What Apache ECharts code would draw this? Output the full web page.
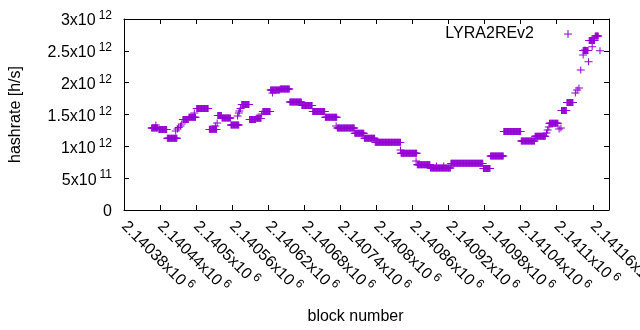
<!DOCTYPE html>
<html><head><meta charset="utf-8">
<script src="https://cdn.jsdelivr.net/npm/echarts@6/dist/echarts.min.js"></script>
<style>html,body{margin:0;padding:0;background:#fff}#c{width:640px;height:330px}</style>
</head><body><div id="c"></div>
<script>
// Runs of (nearly) constant hashrate: first block, last block, hashrate in 1e12 h/s
const runStart = [2140426,2140438,2140452,2140478,2140488,2140501,2140522,2140536,2140543,2140558,2140576,2140589,2140600,2140611,2140624,2140640,2140656,2140676,2140694,2140715,2140735,2140764,2140780,2140798,2140841,2140868,2140890,2140924,2140978,2140990,2141012,2141041,2141064,2141088,2141108,2141117,2141144,2141154,2141164];
const runEnd   = [2140436,2140451,2140468,2140487,2140499,2140520,2140534,2140542,2140557,2140571,2140588,2140599,2140608,2140623,2140639,2140655,2140675,2140693,2140714,2140734,2140763,2140779,2140797,2140840,2140867,2140889,2140923,2140977,2140989,2141011,2141040,2141063,2141081,2141102,2141116,2141127,2141152,2141163,2141169];
const runValue = [1.288,1.264,1.126,1.421,1.456,1.594,1.267,1.484,1.445,1.335,1.657,1.421,1.440,1.547,1.885,1.900,1.696,1.641,1.547,1.456,1.288,1.205,1.126,1.063,0.891,0.711,0.660,0.733,0.652,0.848,1.233,1.084,1.158,1.362,1.563,1.688,2.505,2.662,2.733];
// Isolated blocks
const ptBlock = [2140433,2140466,2140469,2140471,2140474,2140476,2140497,2140532,2140535,2140569,2140571,2140572,2140574,2140609,2140627,2140733,2140840,2140866,2140900,2140912,2141083,2141085,2141087,2141104,2141107,2141131,2141134,2141137,2141140,2141144,2141147,2141153,2141159,2141172];
const ptValue = [1.335,1.241,1.272,1.296,1.319,1.351,1.523,1.319,1.366,1.476,1.523,1.555,1.594,1.508,1.838,1.320,0.942,0.770,0.690,0.690,1.210,1.256,1.304,1.272,1.288,1.838,1.885,1.916,2.199,2.434,2.513,2.329,2.565,2.502];

const xTickMant = ['2.14038','2.14044','2.1405','2.14056','2.14062','2.14068','2.14074','2.1408','2.14086','2.14092','2.14098','2.14104','2.1411','2.14116'];
const xTickExp = '6';
const yTickMant = ['0','5','1','1.5','2','2.5','3'];
const yTickExp = ['','11','12','12','12','12','12'];
const xMin = 2140380, xMax = 2141187, xStep = 60;
const yMin = 0, yMax = 3, yStep = 0.5;
const seriesName = 'LYRA2REv2';

const data = [];
for (let i = 0; i < runStart.length; i++) {
  for (let b = runStart[i]; b <= runEnd[i]; b++) data.push([b, runValue[i]]);
}
for (let i = 0; i < ptBlock.length; i++) data.push([ptBlock[i], ptValue[i]]);

const FONT = 'Liberation Sans, Arial, sans-serif';
const plus = 'path://M0,3.5h8v1h-8z M3.5,0h1v8h-1z';
const rich = {
  a: {fontSize: 16, fontFamily: FONT, color: '#000', lineHeight: 22},
  b: {fontSize: 12, fontFamily: FONT, color: '#000', lineHeight: 12, padding: [0, 0, 10, 3]}
};

const chart = echarts.init(document.getElementById('c'), null, {renderer: 'canvas'});
chart.setOption({
  animation: false,
  grid: {left: 124, right: 31, top: 19, bottom: 120, containLabel: false, outerBoundsMode: 'none'},
  legend: {
    right: 63, top: 21, align: 'right', itemWidth: 8, itemHeight: 8,
    data: [{name: seriesName, icon: plus}],
    formatter: '{t|{name}}',
    textStyle: {rich: {t: {fontSize: 16, fontFamily: FONT, color: '#000', padding: [0, 25, 0, 0]}}}
  },
  xAxis: [{
    type: 'value', min: xMin, max: xMax, interval: xStep, position: 'bottom',
    axisLine: {show: true, onZero: false, lineStyle: {color: '#000', width: 1}},
    axisTick: {show: true, inside: true, length: 5, lineStyle: {color: '#000'}},
    splitLine: {show: false},
    axisLabel: {
      rotate: -45, margin: 14, rich: rich,
      formatter: v => { const i = Math.round((v - xMin) / xStep); return xTickMant[i] ? '{a|' + xTickMant[i] + 'x10}{b|' + xTickExp + '}' : ''; }
    },
    name: 'block number', nameLocation: 'middle', nameGap: 99,
    nameTextStyle: {fontSize: 16, fontFamily: FONT, color: '#000', padding: [0, 22, 0, 0]}
  }, {
    type: 'value', min: xMin, max: xMax, interval: xStep, position: 'top',
    axisLine: {show: true, onZero: false, lineStyle: {color: '#000', width: 1}},
    axisTick: {show: true, inside: true, length: 5, lineStyle: {color: '#000'}},
    axisLabel: {show: false}, splitLine: {show: false}
  }],
  yAxis: [{
    type: 'value', min: yMin, max: yMax, interval: yStep, position: 'left',
    axisLine: {show: true, onZero: false, lineStyle: {color: '#000', width: 1}},
    axisTick: {show: true, inside: true, length: 5, lineStyle: {color: '#000'}},
    splitLine: {show: false},
    axisLabel: {
      margin: 12, rich: rich, padding: [4, 0, 0, 0],
      formatter: v => { const i = Math.round((v - yMin) / yStep); return yTickExp[i] ? '{a|' + yTickMant[i] + 'x10}{b|' + yTickExp[i] + '}' : '{a|' + yTickMant[i] + '}'; }
    },
    name: 'hashrate [h/s]', nameLocation: 'middle', nameGap: 100,
    nameTextStyle: {fontSize: 16, fontFamily: FONT, color: '#000'}
  }, {
    type: 'value', min: yMin, max: yMax, interval: yStep, position: 'right',
    axisLine: {show: true, onZero: false, lineStyle: {color: '#000', width: 1}},
    axisTick: {show: true, inside: true, length: 5, lineStyle: {color: '#000'}},
    axisLabel: {show: false}, splitLine: {show: false}
  }],
  series: [{
    name: seriesName, type: 'scatter', xAxisIndex: 0, yAxisIndex: 0,
    symbol: plus, symbolSize: [8, 7], data: data,
    itemStyle: {color: '#9400D3', opacity: 1},
    emphasis: {disabled: true}
  }]
});
</script></body></html>
